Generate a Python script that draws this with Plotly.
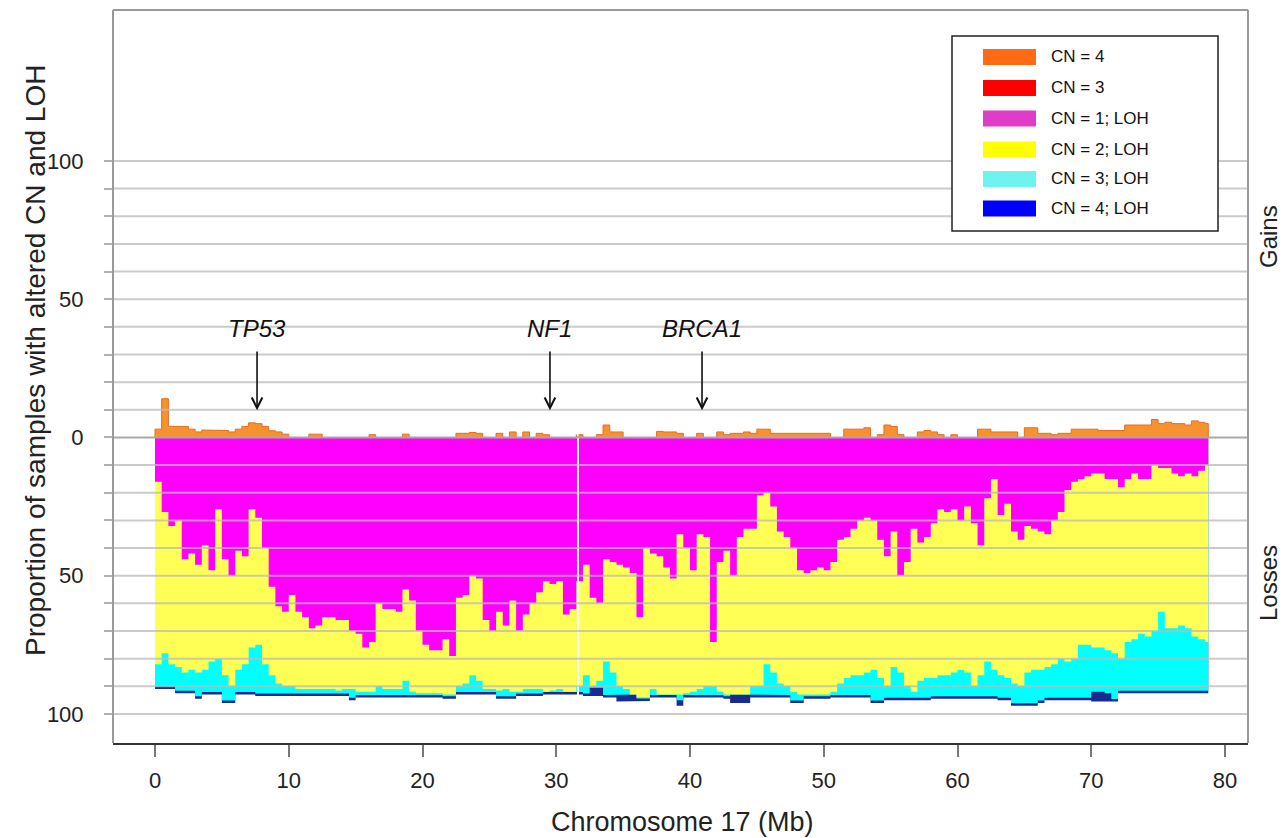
import plotly.graph_objects as go

# ---- Chromosome 17 profile: 0.5 Mb bins (bin start positions, Mb) ----
BIN_START_MB = [i * 0.5 for i in range(158)]
CHROM_END_MB = 78.75
NO_DATA_MB = (31.55, 31.70)          # centromere gap without probes

# Gains: % samples with CN = 4 (CN = 3 gains are not observed here)
GAIN_CN4 = [
    3, 14, 4, 4, 4, 3, 2, 2.7, 2.7, 2.5,
    2.5, 2, 3, 4, 5.3, 5, 4, 2.4, 2, 1.2,
    0, 0, 0, 1.2, 1.2, 0, 0, 0, 0, 0,
    0, 0, 1, 0, 0, 0, 0, 1.2, 0, 0,
    0, 0, 0, 0, 0, 1.5, 1.5, 1.8, 1.5, 0,
    0, 1.5, 0, 2, 0, 2, 0, 1.5, 1, 0,
    0, 0, 0, 1, 0, 0, 1, 4.5, 2, 2,
    0, 0, 0, 0, 0, 2.2, 2, 2, 1.5, 0,
    0, 1.5, 0, 0, 2, 1, 1.5, 1.5, 2, 1.5,
    3, 3, 1.5, 1.5, 1.5, 1.5, 1.5, 1.5, 1.5, 1.5,
    1.5, 0, 0, 3, 3, 3, 3.5, 0, 1, 4.5,
    4, 1, 0, 0, 2, 2.5, 2, 1, 0, 1,
    0, 0, 0, 3, 3, 2, 2, 2, 2, 0,
    3.5, 3.5, 1.5, 1.5, 1, 1.5, 1.5, 3, 3, 3,
    3, 2.5, 2.5, 2.5, 2.5, 4.5, 4.5, 4.5, 4.5, 6.5,
    5, 5.5, 5, 5, 4.5, 6, 5.5, 5,
]

# Losses, cumulative % of samples (drawn downward from 0)
LOSS_CUM_CN1_LOH = [
    16, 27, 32, 30, 44, 42, 46, 39, 48, 26,
    44, 50, 41, 43, 26, 29, 40, 54, 61, 63,
    57, 63, 65, 69, 68, 65, 65, 66, 66, 70,
    71, 76, 74, 60, 62, 62, 63, 55, 59, 70,
    75, 77, 77, 73, 79, 58, 57, 50, 51, 66,
    70, 63, 68, 59, 70, 64, 60, 56, 52, 53,
    52, 64, 62, 52, 46, 58, 60, 44, 45, 46,
    47, 49, 65, 40, 42, 43, 47, 51, 35, 40,
    48, 35, 36, 74, 45, 41, 50, 36, 33, 33,
    21, 20, 25, 34, 36, 40, 48, 49, 48, 47,
    48, 45, 37, 36, 33, 30, 29, 30, 37, 43,
    34, 50, 45, 33, 38, 36, 31, 26, 27, 26,
    30, 25, 31, 39, 22, 15, 28, 24, 34, 37,
    32, 33, 34, 35, 30, 27, 19, 16, 15, 14,
    13, 13, 15, 15, 18, 15, 13, 15, 15, 10,
    11, 11, 13, 14, 13, 14, 12, 10,
]
LOSS_CUM_CN2_LOH = [
    82, 78, 82, 83, 85, 84, 85, 84, 81, 80,
    86, 90, 84, 82, 76, 75, 82, 86, 89, 90,
    90, 91, 91, 91, 91, 91, 91, 91.5, 91, 91,
    92, 92, 92, 90, 91, 91, 91, 88, 92, 92.5,
    92.5, 92.5, 92.5, 93, 93, 90, 89, 86, 88, 91,
    91, 91.5, 91, 92, 92, 91, 91, 91, 92, 91.5,
    91, 92, 92, 90, 86, 90, 88, 81, 85, 90,
    91, 93, 94, 94, 91, 93, 93, 93, 93, 92.5,
    92, 91, 90, 90, 92, 93, 93, 93, 93, 90,
    90, 82, 85, 89, 90, 92, 93, 93, 93, 93,
    93, 92, 89, 87, 86, 86, 85, 84, 87, 90,
    83, 85, 90, 92, 88, 87, 87, 86, 86, 85,
    84, 85, 90, 86, 81, 84, 86, 87, 89, 90,
    85, 84, 84, 83, 82, 80, 81, 80, 75, 75,
    76, 76, 77, 78, 80, 74, 73, 71, 72, 70,
    63, 69, 69, 68, 69, 72, 73, 74,
]
LOSS_CUM_CN3_LOH = [
    90.1, 90.1, 90.1, 91.6, 91.6, 91.6, 93.6, 92.1, 92.1, 92.1,
    95.1, 95.1, 92.1, 92.1, 92.1, 92.6, 92.6, 92.6, 92.6, 92.6,
    92.6, 92.6, 92.6, 92.6, 92.6, 92.6, 92.6, 92.6, 92.6, 94.1,
    93.1, 93.1, 93.1, 93.1, 93.1, 93.1, 93.1, 93.1, 93.1, 93.1,
    93.1, 93.1, 93.1, 93.6, 93.6, 92.1, 92.1, 92.1, 92.1, 92.1,
    92.1, 93.6, 93.6, 93.6, 92.6, 92.6, 92.6, 92.6, 92.1, 92.1,
    92.1, 92.1, 92.1, 92.1, 92.6, 90.5, 90.5, 93.1, 93.1, 93,
    93, 93, 94.4, 94.4, 93.1, 93.1, 93.1, 93.1, 95, 93.1,
    93.1, 93.1, 93.1, 93.1, 93.1, 93.6, 93, 93, 93, 93.1,
    93.1, 93.1, 93.1, 93.1, 93.1, 95.1, 95.1, 93.6, 93.6, 93.6,
    93.6, 93.1, 93.1, 93.1, 93.1, 93.1, 93.1, 95.1, 95.1, 94.1,
    94.1, 94.1, 94.1, 94.1, 94.1, 94.1, 93.6, 93.6, 93.6, 93.6,
    93.6, 93.6, 93.6, 93.6, 93.6, 93.6, 94.1, 94.1, 96.1, 96.1,
    96.1, 96.1, 95.1, 94.1, 94.1, 94.1, 94.1, 94.1, 94.1, 94.1,
    92, 92, 92.5, 94.6, 91.6, 91.6, 91.6, 91.6, 91.6, 91.6,
    91.6, 91.6, 91.6, 91.6, 91.6, 91.6, 91.6, 91.6,
]
LOSS_CUM_CN4_LOH = [
    91, 91, 91, 92.5, 92.5, 92.5, 94.5, 93, 93, 93,
    96, 96, 93, 93, 93, 93.5, 93.5, 93.5, 93.5, 93.5,
    93.5, 93.5, 93.5, 93.5, 93.5, 93.5, 93.5, 93.5, 93.5, 95,
    94, 94, 94, 94, 94, 94, 94, 94, 94, 94,
    94, 94, 94, 94.5, 94.5, 93, 93, 93, 93, 93,
    93, 94.5, 94.5, 94.5, 93.5, 93.5, 93.5, 93.5, 93, 93,
    93, 93, 93, 93, 93.5, 93.5, 93.5, 94, 94, 95.5,
    95.5, 95.5, 95.3, 95.3, 94, 94, 94, 94, 97, 94,
    94, 94, 94, 94, 94, 94.5, 96, 96, 96, 94,
    94, 94, 94, 94, 94, 96, 96, 94.5, 94.5, 94.5,
    94.5, 94, 94, 94, 94, 94, 94, 96, 96, 95,
    95, 95, 95, 95, 95, 95, 94.5, 94.5, 94.5, 94.5,
    94.5, 94.5, 94.5, 94.5, 94.5, 94.5, 95, 95, 97, 97,
    97, 97, 96, 95, 95, 95, 95, 95, 95, 95,
    95.5, 95.5, 95.5, 95.5, 92.5, 92.5, 92.5, 92.5, 92.5, 92.5,
    92.5, 92.5, 92.5, 92.5, 92.5, 92.5, 92.5, 92.5,
]

GENES = ["TP53", "NF1", "BRCA1"]
GENE_MB = [7.63, 29.53, 40.9]

LEGEND_LABELS = ["CN = 4", "CN = 3", "CN = 1; LOH", "CN = 2; LOH", "CN = 3; LOH", "CN = 4; LOH"]
LEGEND_COLORS = ["#FF6A14", "#FF0000", "#E03CC8", "#FFFF00", "#6EF4EE", "#0000FF"]

FONT = "Liberation Sans, Arial, Helvetica, sans-serif"


def step_area(starts, end, level, sign, gap, skip_zero=False):
    """Closed step polygon(s) between 0 and sign*level for each bin, split at the gap."""
    edges = list(starts) + [end]
    runs, cur = [], []
    for i, v in enumerate(level):
        x0, x1 = edges[i], edges[i + 1]
        if skip_zero and v <= 0:
            if cur:
                runs.append(cur)
                cur = []
            continue
        if x0 < gap[1] and x1 > gap[0]:
            if x0 < gap[0]:
                cur.append((x0, gap[0], v))
            if cur:
                runs.append(cur)
                cur = []
            if x1 > gap[1]:
                cur.append((gap[1], x1, v))
            continue
        cur.append((x0, x1, v))
    if cur:
        runs.append(cur)
    xs, ys = [], []
    for run in runs:
        xs.append(run[0][0])
        ys.append(0)
        for a, b, v in run:
            xs += [a, b]
            ys += [sign * v, sign * v]
        xs.append(run[-1][1])
        ys.append(0)
        xs.append(None)
        ys.append(None)
    return xs, ys


fig = go.Figure()

# losses: deepest cumulative level first so each upper category paints over it
loss_layers = [
    (LOSS_CUM_CN4_LOH, "#1A2A90"),
    (LOSS_CUM_CN3_LOH, "#00FFFF"),
    (LOSS_CUM_CN2_LOH, "#FFFF55"),
    (LOSS_CUM_CN1_LOH, "#FF00FF"),
]
for level, color in loss_layers:
    xs, ys = step_area(BIN_START_MB, CHROM_END_MB, level, -1, NO_DATA_MB)
    fig.add_trace(go.Scatter(
        x=xs, y=ys, mode="lines", fill="toself", fillcolor=color,
        line=dict(width=0), hoverinfo="skip", showlegend=False,
    ))

# gains
xs, ys = step_area(BIN_START_MB, CHROM_END_MB, GAIN_CN4, 1, NO_DATA_MB, skip_zero=True)
fig.add_trace(go.Scatter(
    x=xs, y=ys, mode="lines", fill="toself", fillcolor="#F8922E",
    line=dict(width=1, color="#EA6A1E"), hoverinfo="skip", showlegend=False,
))

shapes = []
# horizontal reference lines, drawn over the areas
for v in range(-100, 101, 10):
    shapes.append(dict(
        type="line", xref="paper", yref="y", x0=0, x1=1, y0=v, y1=v, layer="above",
        line=dict(color="#A8A8A8" if v == 0 else "rgba(185,185,185,0.75)", width=2),
    ))
# plot frame (left, top, right)
for x0, y0, x1, y1 in [(0, 0, 0, 1), (0, 1, 1, 1), (1, 0, 1, 1)]:
    shapes.append(dict(type="line", xref="paper", yref="paper", x0=x0, y0=y0, x1=x1, y1=y1,
                       layer="above", line=dict(color="#9A9A9A", width=2)))

# legend box
PW, PH = 1135.0, 733.0
def px_x(px):
    return (px - 113) / PW
def px_y(py):
    return (743 - py) / PH

shapes.append(dict(type="rect", xref="paper", yref="paper",
                   x0=px_x(952), x1=px_x(1218), y0=px_y(231), y1=px_y(36),
                   layer="above", fillcolor="white", line=dict(color="#222", width=1.5)))
annotations = []
row_y = [57, 88, 118.5, 149.5, 179, 208.5]
for lbl, col, ry in zip(LEGEND_LABELS, LEGEND_COLORS, row_y):
    shapes.append(dict(type="rect", xref="paper", yref="paper",
                       x0=px_x(983), x1=px_x(1036), y0=px_y(ry + 8), y1=px_y(ry - 8),
                       layer="above", fillcolor=col, line=dict(width=0)))
    annotations.append(dict(xref="paper", yref="paper", x=px_x(1049), y=px_y(ry),
                            text=lbl, showarrow=False, xanchor="left", yanchor="middle",
                            font=dict(family=FONT, size=17, color="#111")))

# gene markers
for g, mb in zip(GENES, GENE_MB):
    annotations.append(dict(x=mb, y=39.4, xref="x", yref="y", text="<i>%s</i>" % g,
                            showarrow=False, xanchor="center", yanchor="middle",
                            font=dict(family=FONT, size=24, color="#111")))
    annotations.append(dict(x=mb, y=9.8, xref="x", yref="y", ax=mb, ay=31.6,
                            axref="x", ayref="y", text="", showarrow=True,
                            arrowhead=5, arrowsize=1.3, arrowwidth=1.6,
                            arrowcolor="#111", standoff=0))

# axis titles and side labels
def side_text(px, py, text, size, angle=0):
    return dict(xref="paper", yref="paper", x=px_x(px), y=px_y(py), text=text,
                textangle=angle, showarrow=False, xanchor="center", yanchor="middle",
                font=dict(family=FONT, size=size, color="#222"))

annotations += [
    side_text(35, 361, "Proportion of samples with altered CN and LOH", 28, -90),
    side_text(682, 822, "Chromosome 17 (Mb)", 27),
    side_text(1268, 237, "Gains", 24, -90),
    side_text(1268, 583, "Losses", 24, -90),
]

y_ticks = list(range(-100, 101, 10))
y_text = [str(abs(v)) if v % 50 == 0 else "" for v in y_ticks]

fig.update_layout(
    width=1287, height=838,
    margin=dict(l=113, r=39, t=10, b=95),
    paper_bgcolor="white", plot_bgcolor="white",
    showlegend=False,
    shapes=shapes, annotations=annotations,
    xaxis=dict(range=[-3.14, 81.72], tickmode="array", tickvals=list(range(0, 81, 10)),
               showgrid=False, zeroline=False, showline=True, linecolor="#333", linewidth=2,
               ticks="outside", ticklen=12, tickwidth=2, tickcolor="#777",
               ticklabelstandoff=5,
               tickfont=dict(family=FONT, size=22, color="#222")),
    yaxis=dict(range=[-110.5, 154.6], tickmode="array", tickvals=y_ticks, ticktext=y_text,
               showgrid=False, zeroline=False, showline=False,
               ticks="outside", ticklen=8, tickwidth=2, tickcolor="#B0B0B0",
               ticklabelstandoff=16,
               tickfont=dict(family=FONT, size=22, color="#222")),
)

fig.write_html("out.html")
